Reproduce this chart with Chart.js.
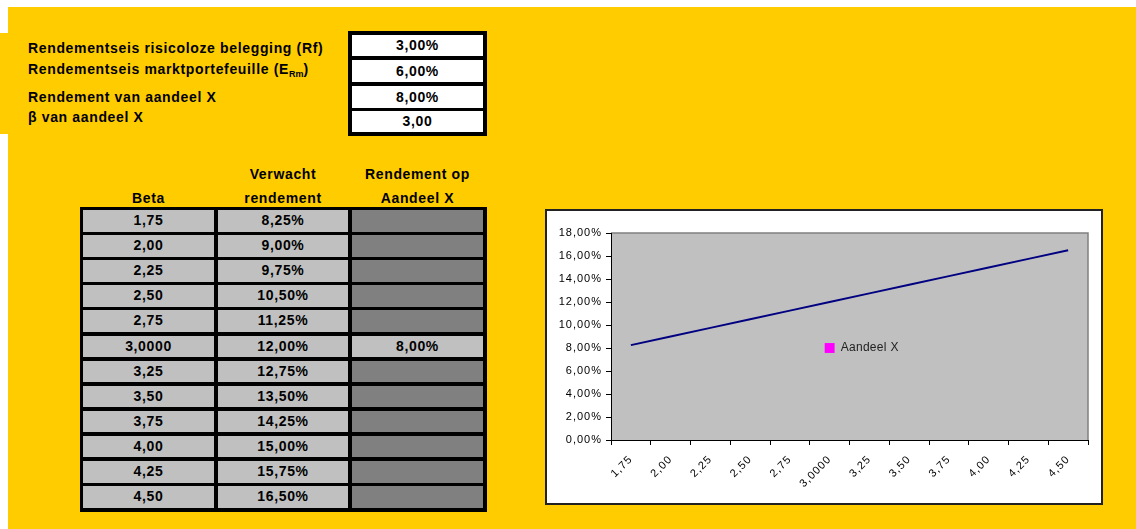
<!DOCTYPE html>
<html>
<head>
<meta charset="utf-8">
<script src="https://cdn.jsdelivr.net/npm/chart.js@4.4.0/dist/chart.umd.min.js"></script>
<style>
  html, body { margin: 0; padding: 0; background: #fff; }
  body { width: 1136px; height: 529px; position: relative; overflow: hidden;
         font-family: "Liberation Sans", Arial, sans-serif; font-weight: bold; font-size: 14px; letter-spacing: 0.65px; color: #000; }
  .abs { position: absolute; }
  .yellow { background: #FFCC00; }
  .lbl { white-space: nowrap; line-height: 16px; }
  .lbl sub { font-size: 9px; vertical-align: -3px; letter-spacing: 0; }
  .cell { text-align: center; white-space: nowrap; }
  .hdr { text-align: center; white-space: nowrap; line-height: 16px; }
  #frame { left: 545px; top: 209px; width: 554px; height: 292px; background: #fff; border: 2px solid #222; }
</style>
</head>
<body>
<div class="abs yellow" style="left:8px;top:7px;width:1128px;height:522px"></div>
<div class="abs yellow" style="left:0;top:33px;width:8px;height:101px"></div>
<div id="inputs"></div>
<div id="table"></div>
<div id="frame" class="abs"><canvas id="capm" width="554" height="292"></canvas></div>

<script>
// Invoer (bovenste blok)
const inputLabels = [
    'Rendementseis risicoloze belegging (Rf)',
    'Rendementseis marktportefeuille (E<sub>Rm</sub>)',
    'Rendement van aandeel X',
    'β van aandeel X'
];
const inputValues = [3.00, 6.00, 8.00, 3.00];
const inputUnits = ['%', '%', '%', ''];

// Tabel / grafiek
const betaLabels = ['1,75', '2,00', '2,25', '2,50', '2,75', '3,0000', '3,25', '3,50', '3,75', '4,00', '4,25', '4,50'];
const expectedReturn = [8.25, 9.00, 9.75, 10.50, 11.25, 12.00, 12.75, 13.50, 14.25, 15.00, 15.75, 16.50];
const stockReturn = [null, null, null, null, null, 8.00, null, null, null, null, null, null];
const headerLines = [['', 'Beta'], ['Verwacht', 'rendement'], ['Rendement op', 'Aandeel X']];
const yTicks = { min: 0, max: 18, step: 2 };

const pct = v => v.toFixed(2).replace('.', ',') + '%';

// --- top block ---
const inputsEl = document.getElementById('inputs');
const labelTops = [40, 61, 89, 108.5];
const boxRows = [[35, 21], [60, 22], [86, 22], [111, 21]];
let html = '<div class="abs" style="left:348px;top:31px;width:139px;height:105px;background:#000"></div>';
inputLabels.forEach((l, i) => {
    html += `<div class="abs lbl" style="left:28px;top:${labelTops[i]}px">${l}</div>`;
    const v = inputValues[i].toFixed(2).replace('.', ',') + inputUnits[i];
    const [t, h] = boxRows[i];
    html += `<div class="abs cell" style="left:352px;top:${t}px;width:131px;height:${h}px;line-height:${h}px;background:#fff">${v}</div>`;
});
inputsEl.innerHTML = html;

// --- table ---
const tableEl = document.getElementById('table');
const cols = [[83, 131], [218, 130], [352, 131]];
html = '<div class="abs" style="left:80px;top:207px;width:407px;height:305px;background:#000"></div>';
headerLines.forEach((lines, c) => {
    const [x, w] = cols[c];
    html += `<div class="abs hdr" style="left:${x}px;top:166px;width:${w}px">${lines[0]}</div>`;
    html += `<div class="abs hdr" style="left:${x}px;top:190px;width:${w}px">${lines[1]}</div>`;
});
betaLabels.forEach((b, i) => {
    const top = 210 + i * 25.1;
    const h = 21.5;
    const vals = [b, pct(expectedReturn[i]), stockReturn[i] == null ? '' : pct(stockReturn[i])];
    vals.forEach((v, c) => {
        const [x, w] = cols[c];
        const bg = (c === 2 && stockReturn[i] == null) ? '#808080' : '#C0C0C0';
        html += `<div class="abs cell" style="left:${x}px;top:${top}px;width:${w}px;height:${h}px;line-height:${h}px;background:${bg}">${v}</div>`;
    });
});
tableEl.innerHTML = html;

// --- chart ---
const tickFont = { family: '"Liberation Sans", Arial, sans-serif', size: 11 };

const plotBg = {
    id: 'plotBg',
    beforeDraw(chart) {
        const { ctx, chartArea: a } = chart;
        ctx.letterSpacing = '1px';
        ctx.save();
        ctx.fillStyle = '#C0C0C0';
        ctx.fillRect(a.left, a.top, a.right - a.left, a.bottom - a.top);
        ctx.strokeStyle = '#808080';
        ctx.lineWidth = 1.5;
        ctx.beginPath();
        ctx.moveTo(a.left, a.top);
        ctx.lineTo(a.right, a.top);
        ctx.lineTo(a.right, a.bottom);
        ctx.stroke();
        ctx.restore();
    }
};

const pointLabel = {
    id: 'pointLabel',
    afterDatasetsDraw(chart) {
        const { ctx } = chart;
        const meta = chart.getDatasetMeta(1);
        meta.data.forEach((pt, i) => {
            if (stockReturn[i] == null) return;
            ctx.save();
            ctx.font = '12px "Liberation Sans", Arial, sans-serif';
            ctx.letterSpacing = '0.3px';
            ctx.fillStyle = '#222';
            ctx.textBaseline = 'middle';
            ctx.fillText(chart.data.datasets[1].label, pt.x + 11, pt.y);
            ctx.restore();
        });
    }
};

new Chart(document.getElementById('capm'), {
    type: 'line',
    data: {
        labels: betaLabels,
        datasets: [{
            label: 'Verwacht rendement',
            data: expectedReturn,
            borderColor: '#000080',
            borderWidth: 2,
            pointRadius: 0,
            tension: 0,
            fill: false
        }, {
            label: 'Aandeel X',
            data: stockReturn,
            showLine: false,
            pointStyle: 'rect',
            pointRadius: 7,
            pointBorderWidth: 0,
            pointBackgroundColor: '#FF00FF',
            pointBorderColor: '#FF00FF'
        }]
    },
    options: {
        responsive: false,
        animation: false,
        layout: { padding: { top: 22, right: 13, left: 0, bottom: 0 } },
        plugins: { legend: { display: false }, tooltip: { enabled: false } },
        scales: {
            x: {
                offset: true,
                grid: { offset: true, drawOnChartArea: false, color: '#000', tickLength: 5 },
                border: { color: '#000', width: 1 },
                ticks: { autoSkip: false, minRotation: 45, maxRotation: 45, color: '#000', font: tickFont, padding: 8 },
                afterFit: s => { s.height = 63; }
            },
            y: {
                min: yTicks.min,
                max: yTicks.max,
                grid: { drawOnChartArea: false, color: '#000', tickLength: 5 },
                border: { color: '#000', width: 1 },
                ticks: { stepSize: yTicks.step, color: '#000', font: tickFont, padding: 4, callback: v => pct(v) },
                afterFit: s => { s.width = 64; }
            }
        }
    },
    plugins: [plotBg, pointLabel]
});
</script>
</body>
</html>
